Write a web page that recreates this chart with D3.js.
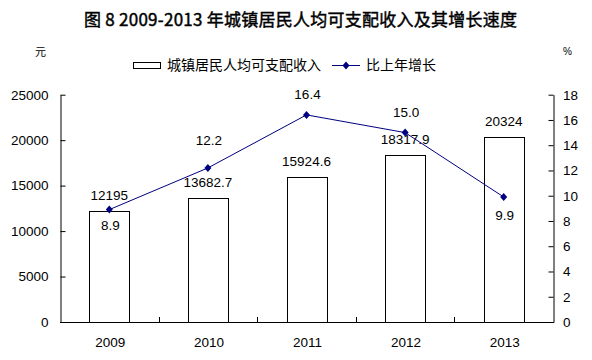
<!DOCTYPE html>
<html><head><meta charset="utf-8">
<script src="https://cdn.jsdelivr.net/npm/d3@7"></script>
<style>
html,body{margin:0;padding:0;background:#fff;}
svg{display:block;}
</style></head>
<body>
<svg id="c" width="592" height="360"></svg>
<script>
const years = ["2009","2010","2011","2012","2013"];
const income = [12195, 13682.7, 15924.6, 18317.9, 20324];
const growth = [8.9, 12.2, 16.4, 15.0, 9.9];
const leftTicks = [0,5000,10000,15000,20000,25000];
const rightTicks = [0,2,4,6,8,10,12,14,16,18];
const growthLabelDy = [20, -23, -16, -16, 23];

const numFont = "'Liberation Sans', Arial, sans-serif";
const cjkFont = "'Noto Sans CJK SC', sans-serif";
const navy = "#000080";

const svg = d3.select("#c");
const x = d3.scaleBand().domain(years).range([60, 553]);
const yL = d3.scaleLinear().domain([0, 25000]).range([322, 94.7]);
const yR = d3.scaleLinear().domain([0, 18]).range([322, 94.7]);
const cx = d => x(d) + x.bandwidth()/2;
const barW = 40;

// Title
svg.append("text").attr("x", 84).attr("y", 26)
  .attr("font-family", cjkFont).attr("font-size", 17).attr("font-weight","normal")
  .attr("fill","#000").attr("stroke","#000").attr("stroke-width",0.45)
  .attr("textLength",433).attr("lengthAdjust","spacing")
  .text("图 8  2009-2013 年城镇居民人均可支配收入及其增长速度");

// Units
svg.append("text").attr("x", 35).attr("y", 56).attr("font-family", cjkFont)
  .attr("font-size", 11).text("元");
svg.append("text").attr("x", 563).attr("y", 55).attr("font-family", numFont)
  .attr("font-size", 10).text("%");

// Legend
svg.append("rect").attr("x",133.5).attr("y",62.5).attr("width",27).attr("height",6)
  .attr("fill","#fff").attr("stroke","#000").attr("stroke-width",1);
svg.append("text").attr("x",167).attr("y",70).attr("font-family",cjkFont)
  .attr("font-size",14).text("城镇居民人均可支配收入");
svg.append("line").attr("x1",332).attr("x2",360).attr("y1",65.5).attr("y2",65.5)
  .attr("stroke",navy).attr("stroke-width",1);
const diamond = (px,py)=>`M${px},${py-4}L${px+3.5},${py}L${px},${py+4}L${px-3.5},${py}Z`;
svg.append("path").attr("d", diamond(346,65.5)).attr("fill",navy);
svg.append("text").attr("x",366).attr("y",70).attr("font-family",cjkFont)
  .attr("font-size",14).text("比上年增长");

// Bars
svg.append("g").selectAll("rect").data(income).join("rect")
  .attr("x",(d,i)=>Math.round(cx(years[i]) - barW/2) + 0.5)
  .attr("y",d=>Math.round(yL(d))+0.5)
  .attr("width",barW)
  .attr("height",d=>322 - Math.round(yL(d)))
  .attr("fill","#fff").attr("stroke","#000").attr("stroke-width",1);

// Left axis
const gL = svg.append("g").attr("transform","translate(60.5,0)")
  .call(d3.axisLeft(yL).tickValues(leftTicks).tickSizeInner(-5).tickSizeOuter(0).tickPadding(12).tickFormat(d3.format("d")));
// Right axis
const gR = svg.append("g").attr("transform","translate(553.5,0)")
  .call(d3.axisRight(yR).tickValues(rightTicks).tickSizeInner(-5).tickSizeOuter(0).tickPadding(9.5).tickFormat(d3.format("d")));
[gL,gR].forEach(g=>{
  g.selectAll("text").attr("font-family",numFont).attr("font-size",13.5).attr("fill","#000");
  g.selectAll("line,path").attr("stroke","#000");
});

// X axis
const gX = svg.append("g");
gX.append("line").attr("x1",60).attr("x2",554).attr("y1",322.5).attr("y2",322.5).attr("stroke","#000");
gX.selectAll("line.t").data(years.slice(1)).join("line").attr("class","t")
  .attr("x1",d=>Math.round(x(d))+0.5).attr("x2",d=>Math.round(x(d))+0.5)
  .attr("y1",322).attr("y2",317).attr("stroke","#000");
gX.selectAll("text").data(years).join("text")
  .attr("x",d=>cx(d)+1).attr("y",346.5).attr("text-anchor","middle")
  .attr("font-family",numFont).attr("font-size",13.5).text(d=>d);

// Bar labels
svg.append("g").selectAll("text").data(income).join("text")
  .attr("x",(d,i)=>cx(years[i])).attr("y",d=>yL(d)-11).attr("text-anchor","middle")
  .attr("font-family",numFont).attr("font-size",13.5).text(d=>String(d));

// Line
const line = d3.line().x((d,i)=>cx(years[i])).y(d=>yR(d));
svg.append("path").datum(growth).attr("d",line).attr("fill","none")
  .attr("stroke",navy).attr("stroke-width",1);
svg.append("g").selectAll("path").data(growth).join("path")
  .attr("d",(d,i)=>diamond(cx(years[i]), yR(d))).attr("fill",navy);
svg.append("g").selectAll("text").data(growth).join("text")
  .attr("x",(d,i)=>cx(years[i])+1).attr("y",(d,i)=>yR(d)+growthLabelDy[i]).attr("text-anchor","middle")
  .attr("font-family",numFont).attr("font-size",13.5).text(d=>d.toFixed(1));
</script>
</body></html>
